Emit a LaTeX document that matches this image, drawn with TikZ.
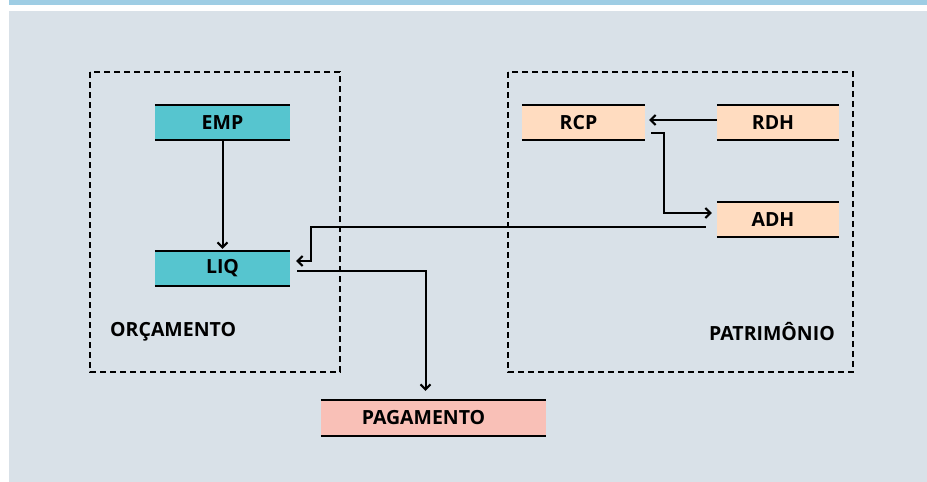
\documentclass[tikz,border=0pt]{standalone}
\usepackage{fontspec}
\setmainfont{Open Sans}
\usetikzlibrary{arrows.meta}

\definecolor{barra}{HTML}{9ECDE4}
\definecolor{fundo}{HTML}{D9E1E8}
\definecolor{turquesa}{HTML}{56C5CF}
\definecolor{pessego}{HTML}{FFDCC0}
\definecolor{salmao}{HTML}{F9C0B7}

\tikzset{
  bloco/.style={minimum width=135pt, minimum height=35pt, inner sep=0pt,
    font=\fontsize{19.5}{22}\selectfont\bfseries},
  borda/.style={line width=2.5pt},
  grupo/.style={line width=2.2pt, dash pattern=on 6pt off 4pt},
  rotulo/.style={inner sep=0pt, font=\fontsize{19.5}{22}\selectfont\bfseries},
  seta/.style={line width=2pt, -{Straight Barb[length=5pt,width=10pt]}},
}

\begin{document}
\begin{tikzpicture}[x=1pt, y=-1pt]
			\useasboundingbox (0,0) rectangle (927,482);
			\fill[barra] (9,0) rectangle (927,5);
			\fill[fundo] (9,11) rectangle (927,482);
			% grupos
			\draw[grupo] (90,72) rectangle (340,372);
			\draw[grupo] (508,72) rectangle (853,372);
			\node[rotulo, anchor=west] (orc) at (110,332) {ORÇAMENTO};
			\node[rotulo, anchor=east] (pat) at (835,332) {PATRIMÔNIO};
			% blocos
			\node[bloco, fill=turquesa] (emp) at (222.5,122.5) {EMP};
			\node[bloco, fill=turquesa] (liq) at (222.5,268.5) {LIQ};
			\node[bloco, fill=pessego, minimum width=123pt] (rcp) at (583.5,122.5) {RCP\hspace*{10pt}};
			\node[bloco, fill=pessego, minimum width=122pt] (rdh) at (778,122.5) {RDH\hspace*{10pt}};
			\node[bloco, fill=pessego, minimum width=122pt] (adh) at (778,219.5) {ADH\hspace*{10pt}};
			\node[bloco, fill=salmao, minimum width=225pt, minimum height=36pt] (pag) at (433.5,418) {PAGAMENTO\hspace*{20pt}};
			\foreach \n in {emp,liq,rcp,rdh,adh,pag}
				\draw[borda] (\n.north west) -- (\n.north east) (\n.south west) -- (\n.south east);
			% ligacoes
			\draw[seta] (emp) -- ([yshift=2pt]liq.north);
			\draw[seta, shorten >=4pt] ([yshift=2.5pt]rdh.west) -- ([yshift=2.5pt]rcp.east);
			\draw[seta] ([xshift=6pt,yshift=7pt]rcp.south east) -- ++(13,0) |- ([xshift=-5pt,yshift=6.5pt]adh.west);
			\draw[seta] ([xshift=-11pt,yshift=-7.5pt]adh.west) -| ([xshift=21pt,yshift=7.5pt]liq.east) -- ([xshift=6pt,yshift=7.5pt]liq.east);
			\draw[seta] ([xshift=7pt,yshift=-2.5pt]liq.east) -| ([xshift=-8pt,yshift=9pt]pag.north);
		\end{tikzpicture}
\end{document}
